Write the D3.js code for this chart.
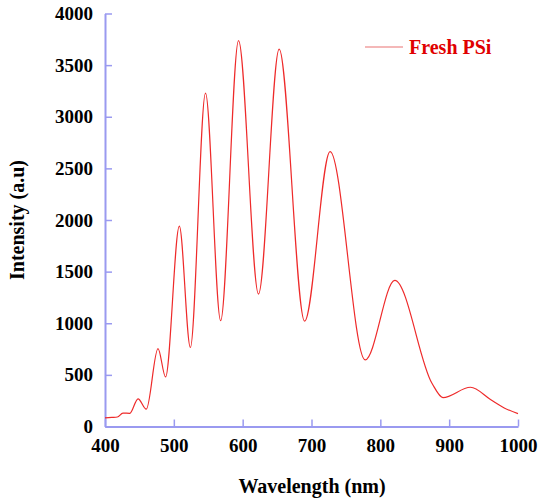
<!DOCTYPE html>
<html>
<head>
<meta charset="utf-8">
<script src="https://cdn.jsdelivr.net/npm/d3@7"></script>
<style>
  body { margin: 0; background: #fff; }
  svg text { font-family: "Liberation Serif", "Times New Roman", serif; font-weight: bold; }
</style>
</head>
<body>
<svg id="chart" width="540" height="500"></svg>
<script>
// spectrum (nm, a.u)
var wavelength = [400, 410, 418, 426, 436, 448, 460, 477, 488, 508, 524, 546, 568, 594, 623, 653, 690, 727, 778, 821, 875, 891, 931, 960, 980, 1000];
var intensity  = [84, 88, 92, 130, 128, 268, 168, 755, 480, 1940, 765, 3228, 1025, 3738, 1283, 3655, 1020, 2662, 645, 1415, 419, 280, 380, 262, 180, 125];
var xTicks = [400, 500, 600, 700, 800, 900, 1000];
var yTicks = [0, 500, 1000, 1500, 2000, 2500, 3000, 3500, 4000];
var seriesName = 'Fresh PSi';

var axisColor = '#9a9af0';
var svg = d3.select('#chart');

var x = d3.scaleLinear().domain([400, 1000]).range([105, 518]);
var y = d3.scaleLinear().domain([0, 4000]).range([426.5, 13.5]);

var data = wavelength.map(function(w, i) { return { w: w, v: intensity[i] }; });

// axes, ticks pointing inward
var gx = svg.append('g')
    .attr('transform', 'translate(0,' + y(0) + ')')
    .call(d3.axisBottom(x).tickValues(xTicks).tickFormat(d3.format('d'))
        .tickSizeInner(-7).tickSizeOuter(0).tickPadding(12));
var gy = svg.append('g')
    .attr('transform', 'translate(' + x(400) + ',0)')
    .call(d3.axisLeft(y).tickValues(yTicks).tickFormat(d3.format('d'))
        .tickSizeInner(-7).tickSizeOuter(0).tickPadding(12));

[gx, gy].forEach(function(g) {
    g.attr('font-family', '"Liberation Serif", serif')
        .attr('font-size', 19)
        .attr('font-weight', 'bold');
    g.select('.domain').attr('stroke', axisColor).attr('stroke-width', 2);
    g.selectAll('.tick line').attr('stroke', axisColor).attr('stroke-width', 1.5);
    g.selectAll('.tick text').attr('fill', '#000');
});

// the spectrum
var line = d3.line()
    .x(function(d) { return x(d.w); })
    .y(function(d) { return y(d.v); })
    .curve(d3.curveMonotoneX);

svg.append('path')
    .datum(data)
    .attr('d', line)
    .attr('fill', 'none')
    .attr('stroke', '#ee2a2a')
    .attr('stroke-width', 1.2);

// axis titles
svg.append('text')
    .attr('x', 312)
    .attr('y', 493)
    .attr('text-anchor', 'middle')
    .style('font-size', '20px')
    .text('Wavelength (nm)');

svg.append('text')
    .attr('transform', 'translate(24,220) rotate(-90)')
    .attr('text-anchor', 'middle')
    .style('font-size', '20px')
    .text('Intensity (a.u)');

// legend
svg.append('line')
    .attr('x1', 365).attr('x2', 403)
    .attr('y1', 47).attr('y2', 47)
    .attr('stroke', '#f0a0a0')
    .attr('stroke-width', 1.5);
svg.append('text')
    .attr('x', 409)
    .attr('y', 54)
    .attr('fill', '#e00000')
    .style('font-size', '20px')
    .text(seriesName);
</script>
</body>
</html>
